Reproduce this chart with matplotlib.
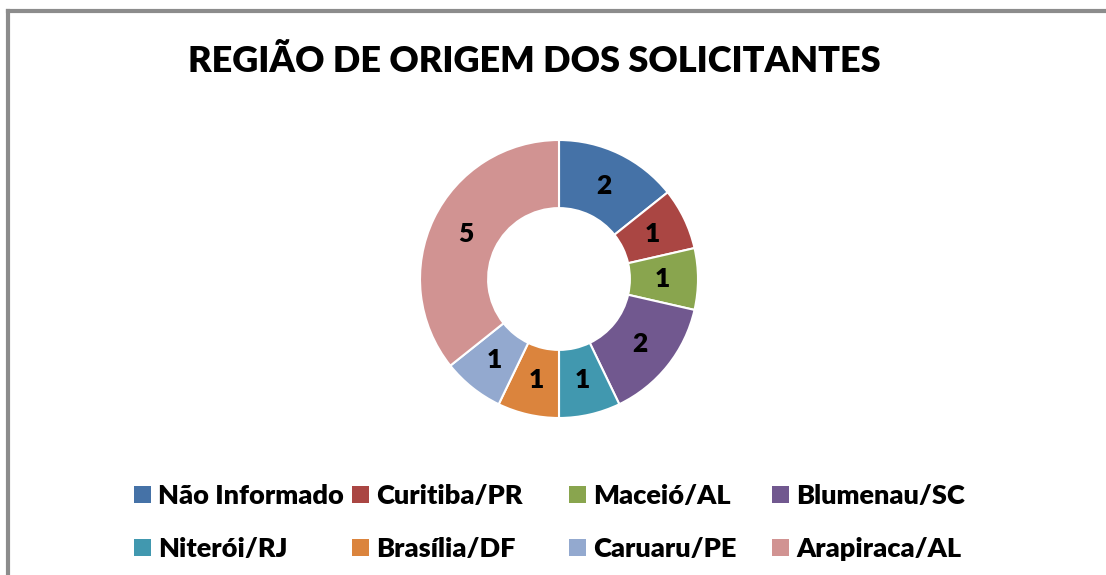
import numpy as np
import matplotlib.pyplot as plt
from matplotlib.patches import Rectangle
from matplotlib.lines import Line2D

plt.rcParams['font.family'] = ['Lato', 'DejaVu Sans']

regions = ['Não Informado', 'Curitiba/PR', 'Maceió/AL', 'Blumenau/SC',
           'Niterói/RJ', 'Brasília/DF', 'Caruaru/PE', 'Arapiraca/AL']
counts = [2, 1, 1, 2, 1, 1, 1, 5]
colors = ['#4572A7', '#AA4643', '#89A54E', '#71588F',
          '#4198AF', '#DB843D', '#93A9CF', '#D19392']

W, H = 1106, 575
fig = plt.figure(figsize=(W / 100, H / 100), dpi=100)

# outer frame (top and left edges visible)
fig.add_artist(Line2D([7.5 / W, 7.5 / W], [0, 1 - 10.5 / H], color='#8c8c8c', lw=3))
fig.add_artist(Line2D([7.5 / W, 1], [1 - 10.5 / H, 1 - 10.5 / H], color='#8c8c8c', lw=3))

# donut
cx, cy, r = 559, 279, 139
ax = fig.add_axes([(cx - r) / W, 1 - (cy + r) / H, 2 * r / W, 2 * r / H])
wedges, _ = ax.pie(counts, colors=colors, startangle=90, counterclock=False,
                   radius=1.0, wedgeprops=dict(width=0.49, edgecolor='white', linewidth=1.5))
ax.set_xlim(-1, 1)
ax.set_ylim(-1, 1)
ax.set_aspect('equal')
ax.axis('off')

total = sum(counts)
ang = 90.0
for v in counts:
    mid = np.deg2rad(ang - v / total * 180)
    ax.text(0.745 * np.cos(mid), 0.745 * np.sin(mid), str(v), ha='center', va='center',
            fontsize=19, fontweight='heavy', color='black')
    ang -= v / total * 360

fig.text(534 / W, 1 - 62 / H, 'REGIÃO DE ORIGEM DOS SOLICITANTES', ha='center', va='center',
         fontsize=26, fontweight='heavy')

# legend, filled row by row
col_x = [134, 352, 569, 772]
row_y = [494, 547]
sq = 17
for i, (name, c) in enumerate(zip(regions, colors)):
    x = col_x[i % 4]
    y = row_y[i // 4]
    fig.add_artist(Rectangle((x / W, 1 - (y + sq / 2) / H), sq / W, sq / H,
                             facecolor=c, edgecolor='none', transform=fig.transFigure))
    fig.text((x + 24) / W, 1 - y / H, name, ha='left', va='center_baseline',
             fontsize=19.5, fontweight='heavy')

fig.savefig('out.png', dpi=100)
